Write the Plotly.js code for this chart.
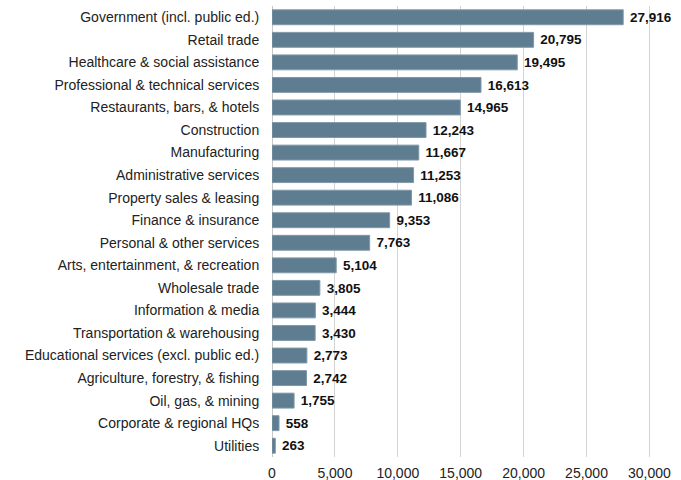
<!DOCTYPE html>
<html><head><meta charset="utf-8">
<script src="https://cdn.plot.ly/plotly-3.0.1.min.js"></script>
<style>html,body{margin:0;padding:0;background:#fff}#chart{width:681px;height:480px}</style>
</head><body><div id="chart"></div>
<script>
const categories = ["Government (incl. public ed.)","Retail trade","Healthcare & social assistance","Professional & technical services","Restaurants, bars, & hotels","Construction","Manufacturing","Administrative services","Property sales & leasing","Finance & insurance","Personal & other services","Arts, entertainment, & recreation","Wholesale trade","Information & media","Transportation & warehousing","Educational services (excl. public ed.)","Agriculture, forestry, & fishing","Oil, gas, & mining","Corporate & regional HQs","Utilities"];
const values = [27916,20795,19495,16613,14965,12243,11667,11253,11086,9353,7763,5104,3805,3444,3430,2773,2742,1755,558,263];
const xTicks = [0,5000,10000,15000,20000,25000,30000];

const FONT = "'Liberation Sans', Arial, sans-serif";
Plotly.newPlot('chart', [{
  type: 'bar', orientation: 'h',
  x: values, y: categories,
  marker: {color: '#5e7d90', line: {color: '#7f98a8', width: 1}},
  texttemplate: '\u00a0%{x:,}', textposition: 'outside', cliponaxis: false,
  textfont: {family: FONT, size: 14.5, color: '#111', weight: 'bold'},
  hoverinfo: 'none'
}], {
  width: 681, height: 480,
  margin: {l: 272, r: 19, t: 6, b: 23},
  paper_bgcolor: '#fff', plot_bgcolor: '#fff',
  bargap: 0.34,
  font: {family: FONT, size: 14, color: '#222'},
  xaxis: {range: [0, 31000], tickvals: xTicks, tickformat: ',d', showgrid: true, gridcolor: '#d4d4d4', gridwidth: 1,
    zeroline: true, zerolinecolor: '#c8c8c8', zerolinewidth: 1, showline: false, ticks: 'outside', ticklen: 3, tickcolor: 'rgba(0,0,0,0)',
    tickfont: {family: FONT, size: 14, color: '#222'}, fixedrange: true},
  yaxis: {autorange: 'reversed', ticks: 'outside', ticklen: 9, tickcolor: 'rgba(0,0,0,0)', showline: false, showgrid: false,
    tickfont: {family: FONT, size: 14, color: '#222'}, fixedrange: true},
  showlegend: false
}, {staticPlot: true});
</script></body></html>
